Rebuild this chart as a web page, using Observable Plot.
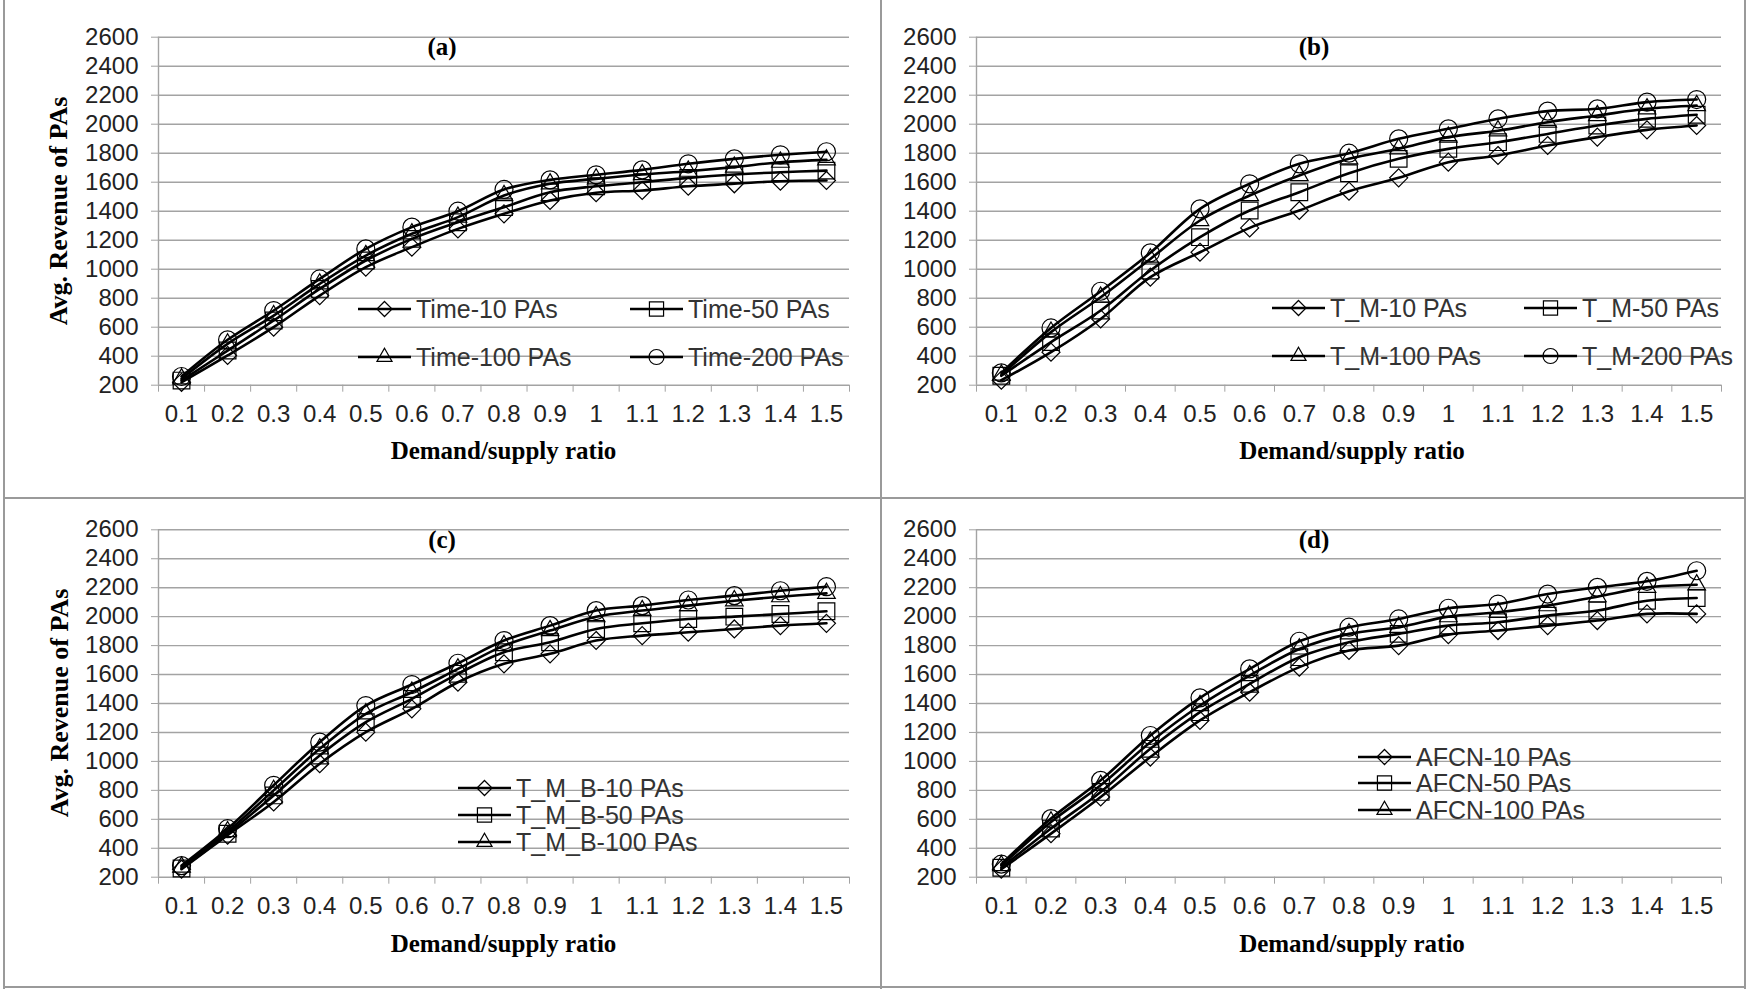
<!DOCTYPE html>
<html>
<head>
<meta charset="utf-8">
<script src="https://cdn.jsdelivr.net/npm/d3@7"></script>
<script src="https://cdn.jsdelivr.net/npm/@observablehq/plot@0.6"></script>
<style>
  html, body { margin: 0; padding: 0; background: #fff; }
  body { width: 1747px; height: 989px; position: relative; overflow: hidden;
         font-family: "Liberation Sans", Arial, sans-serif; }
  .panel { position: absolute; }
  .abs { position: absolute; white-space: nowrap; }
  .serif { font-family: "Liberation Serif", "Times New Roman", serif; font-weight: bold; color: #000; line-height: 1; }
  .ptitle { font-size: 25px; transform: translate(-50%, -50%); }
  .xtitle { font-size: 25px; transform: translate(-50%, -50%); }
  .ytitle { font-size: 26px; transform: translate(-50%, -50%) rotate(-90deg); }
  .leg { position: absolute; display: flex; align-items: center; height: 30px; white-space: nowrap; }
  .leg span { font-size: 25px; color: #333; margin-left: 5px; line-height: 1; }
  .bl { position: absolute; background: #9a9a9a; }
</style>
</head>
<body>
<script>
// ---------- data ----------
const ratioLabels = ["0.1","0.2","0.3","0.4","0.5","0.6","0.7","0.8","0.9","1","1.1","1.2","1.3","1.4","1.5"];
const yTickValues = [200, 400, 600, 800, 1000, 1200, 1400, 1600, 1800, 2000, 2200, 2400, 2600];
const seriesNames = ["10 PAs", "50 PAs", "100 PAs", "200 PAs"];
const markerSymbols = ["diamond2", "square2", "triangle2", "circle"];

// (a) Time
const timeRev10  = [220, 405, 600, 818, 1014, 1152, 1278, 1382, 1474, 1527, 1543, 1572, 1589, 1607, 1612];
const timeRev50  = [232, 439, 646, 864, 1060, 1209, 1324, 1428, 1531, 1572, 1600, 1630, 1653, 1669, 1680];
const timeRev100 = [244, 485, 680, 899, 1094, 1244, 1359, 1508, 1589, 1623, 1653, 1676, 1704, 1738, 1754];
const timeRev200 = [260, 513, 715, 933, 1140, 1290, 1400, 1550, 1616, 1651, 1685, 1727, 1761, 1789, 1810];
// (b) T_M
const tmRev10  = [235, 428, 657, 945, 1117, 1285, 1405, 1538, 1630, 1738, 1784, 1853, 1911, 1961, 1991];
const tmRev50  = [265, 497, 715, 991, 1221, 1405, 1531, 1662, 1761, 1830, 1876, 1933, 1991, 2037, 2065];
const tmRev100 = [270, 566, 807, 1071, 1336, 1508, 1646, 1761, 1830, 1911, 1955, 2014, 2060, 2106, 2129];
const tmRev200 = [285, 595, 848, 1113, 1416, 1589, 1727, 1800, 1899, 1968, 2037, 2090, 2106, 2152, 2170];
// (c) T_M_B
const tmbRev10  = [255, 490, 720, 984, 1202, 1363, 1547, 1674, 1743, 1835, 1869, 1892, 1915, 1938, 1954];
const tmbRev50  = [260, 500, 765, 1041, 1271, 1432, 1605, 1754, 1823, 1915, 1954, 1984, 2000, 2018, 2037];
const tmbRev100 = [270, 515, 800, 1087, 1329, 1478, 1639, 1800, 1904, 2000, 2042, 2076, 2110, 2138, 2161];
const tmbRev200 = [280, 535, 835, 1133, 1386, 1531, 1678, 1835, 1938, 2042, 2076, 2115, 2145, 2179, 2207];
// (d) AFCN
const afcnRev10  = [255, 501, 754, 1030, 1283, 1478, 1651, 1766, 1800, 1876, 1904, 1938, 1973, 2019, 2019];
const afcnRev50  = [265, 536, 789, 1087, 1340, 1536, 1720, 1823, 1881, 1938, 1961, 2007, 2042, 2110, 2129];
const afcnRev100 = [280, 582, 835, 1133, 1386, 1593, 1777, 1881, 1927, 2000, 2030, 2076, 2138, 2202, 2220];
const afcnRev200 = [290, 605, 869, 1179, 1439, 1639, 1830, 1927, 1984, 2058, 2087, 2156, 2202, 2244, 2317];

const panelLetters = ["(a)", "(b)", "(c)", "(d)"];
const panelPrefixes = ["Time", "T_M", "T_M_B", "AFCN"];
const xTitle = "Demand/supply ratio";
const yTitle = "Avg. Revenue of PAs";

// ---------- layout ----------
const GRID = "#a3a3a3";
const panels = [
  { series: [timeRev10, timeRev50, timeRev100, timeRev200], legendN: 4, yTitle: true,
    left: 0, top: 0, w: 880, h: 497, ml: 158, mr: 31, mt: 36.7, mb: 112.3,
    titleX: 442, titleY: 46, xTitleX: 503.5, xTitleY: 450, yTitleX: 59, yTitleY: 211,
    legend: [[358, 309], [630, 309], [358, 357], [630, 357]] },
  { series: [tmRev10, tmRev50, tmRev100, tmRev200], legendN: 4, yTitle: false,
    left: 880, top: 0, w: 867, h: 497, ml: 96, mr: 26, mt: 36.7, mb: 112.3,
    titleX: 1314, titleY: 46, xTitleX: 1352, xTitleY: 450,
    legend: [[1272, 308], [1524, 308], [1272, 356], [1524, 356]] },
  { series: [tmbRev10, tmbRev50, tmbRev100, tmbRev200], legendN: 3, yTitle: true,
    left: 0, top: 497, w: 880, h: 492, ml: 158, mr: 31, mt: 32.3, mb: 112.3,
    titleX: 442, titleY: 539, xTitleX: 503.5, xTitleY: 943, yTitleX: 60, yTitleY: 703,
    legend: [[458, 788], [458, 815], [458, 842]] },
  { series: [afcnRev10, afcnRev50, afcnRev100, afcnRev200], legendN: 3, yTitle: false,
    left: 880, top: 497, w: 867, h: 492, ml: 96, mr: 26, mt: 32.3, mb: 112.3,
    titleX: 1314, titleY: 539, xTitleX: 1352, xTitleY: 943,
    legend: [[1358, 757], [1358, 783], [1358, 810]] }
];

// marker radii (Plot r) giving ~18px glyphs
const plotR = { diamond2: 8.1, square2: 10.6, triangle2: 8.4, circle: 9 };
const legR  = { diamond2: 6.8, square2: 9.0, triangle2: 7.2, circle: 7.5 };
const d3Sym = { diamond2: d3.symbolDiamond2, square2: d3.symbolSquare2, triangle2: d3.symbolTriangle2, circle: d3.symbolCircle };

function makePlot(p) {
  const n = ratioLabels.length;
  const idx = d3.range(n);
  const bounds = d3.range(n + 1).map(i => i - 0.5);
  const marks = [
    Plot.gridY(yTickValues, { stroke: GRID, strokeOpacity: 1, strokeWidth: 1.4 }),
    Plot.ruleX([-0.5], { stroke: GRID, strokeWidth: 1.4 }),
    Plot.axisY(yTickValues, { tickSize: 7, tickPadding: 13, stroke: GRID, fill: "#222", fontSize: 24, label: null, tickFormat: d => String(d) }),
    Plot.axisX(bounds, { tickSize: 7, stroke: GRID, label: null, tickFormat: () => "" }),
    Plot.axisX(idx, { tickSize: 0, tickPadding: 20, fill: "#222", fontSize: 24, label: null, tickFormat: i => ratioLabels[i] })
  ];
  p.series.forEach(vals => {
    marks.push(Plot.line(vals, { x: (d, i) => i, y: d => d, stroke: "#000", strokeWidth: 2.6, curve: "catmull-rom" }));
  });
  p.series.forEach((vals, s) => {
    const sym = markerSymbols[s];
    marks.push(Plot.dot(vals, { x: (d, i) => i, y: d => d, symbol: sym, r: plotR[sym], stroke: "#000", strokeWidth: 1.2, fill: "none" }));
  });
  return Plot.plot({
    width: p.w, height: p.h,
    marginLeft: p.ml, marginRight: p.mr, marginTop: p.mt, marginBottom: p.mb,
    x: { domain: [-0.5, n - 0.5] },
    y: { domain: [200, 2600] },
    style: { background: "transparent", overflow: "visible", fontFamily: "'Liberation Sans', Arial, sans-serif", fontSize: "24px", color: "#222" },
    marks
  });
}

function addDiv(cls, x, y, text) {
  const d = document.createElement("div");
  d.className = cls;
  d.style.left = x + "px";
  d.style.top = y + "px";
  d.textContent = text;
  document.body.appendChild(d);
  return d;
}

function legendEntry(x, y, s, label) {
  const div = document.createElement("div");
  div.className = "leg";
  div.style.left = x + "px";
  div.style.top = (y - 15) + "px";
  const svg = d3.create("svg").attr("width", 53).attr("height", 30).style("overflow", "visible");
  svg.append("line").attr("x1", 0).attr("x2", 53).attr("y1", 15).attr("y2", 15).attr("stroke", "#000").attr("stroke-width", 2.6);
  const sym = markerSymbols[s];
  svg.append("path").attr("transform", "translate(26.5,15)")
     .attr("d", d3.symbol(d3Sym[sym], Math.PI * legR[sym] * legR[sym])())
     .attr("fill", "none").attr("stroke", "#000").attr("stroke-width", 1.2);
  div.appendChild(svg.node());
  const sp = document.createElement("span");
  sp.textContent = label;
  div.appendChild(sp);
  document.body.appendChild(div);
}

panels.forEach((p, k) => {
  const wrap = document.createElement("div");
  wrap.className = "panel";
  wrap.style.left = p.left + "px";
  wrap.style.top = p.top + "px";
  wrap.appendChild(makePlot(p));
  document.body.appendChild(wrap);

  addDiv("abs serif ptitle", p.titleX, p.titleY, panelLetters[k]);
  addDiv("abs serif xtitle", p.xTitleX, p.xTitleY, xTitle);
  if (p.yTitle) addDiv("abs serif ytitle", p.yTitleX, p.yTitleY, yTitle);
  for (let s = 0; s < p.legendN; s++) {
    legendEntry(p.legend[s][0], p.legend[s][1], s, panelPrefixes[k] + "-" + seriesNames[s]);
  }
});

// panel frame lines
function line(x, y, w, h) {
  const d = document.createElement("div");
  d.className = "bl";
  Object.assign(d.style, { left: x + "px", top: y + "px", width: w + "px", height: h + "px" });
  document.body.appendChild(d);
}
line(3, 0, 2, 989);
line(1744, 0, 2, 989);
line(880, 0, 2, 989);
line(3, 497, 1743, 2);
line(3, 986, 1743, 2);
</script>
</body>
</html>
